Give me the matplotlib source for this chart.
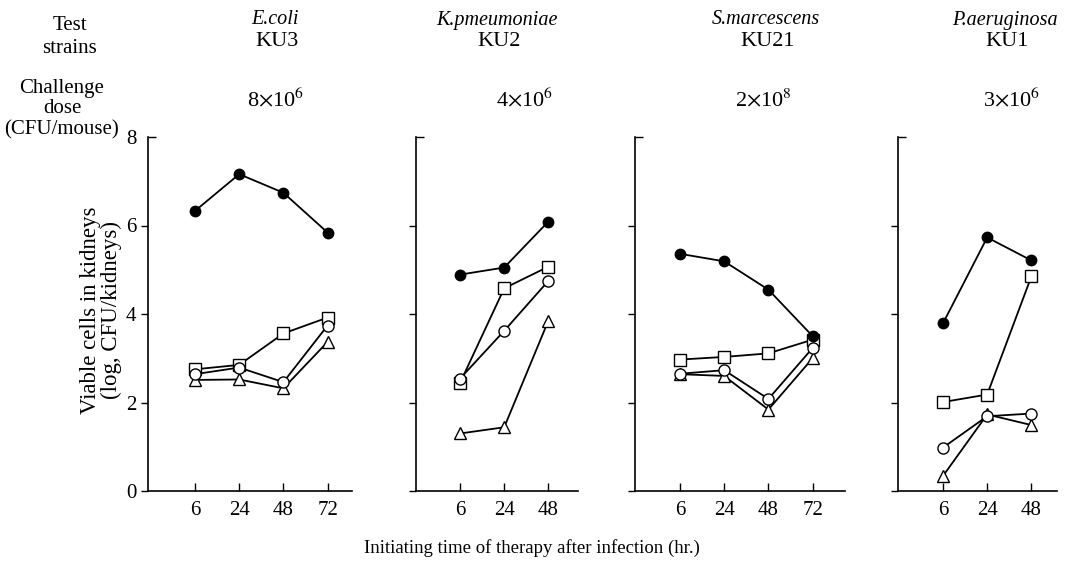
import matplotlib.pyplot as plt
from matplotlib.ticker import FixedLocator

plt.rcParams['font.family'] = ['Liberation Serif', 'DejaVu Serif']
plt.rcParams['mathtext.fontset'] = 'stix'

# strains / panels
especies = ["E.coli", "K.pmeumoniae", "S.marcescens", "P.aeruginosa"]
cepas = ["KU3", "KU2", "KU21", "KU1"]
doses = [r"8$\times$10$^6$", r"4$\times$10$^6$", r"2$\times$10$^8$", r"3$\times$10$^6$"]
tempos = [["6", "24", "48", "72"], ["6", "24", "48"], ["6", "24", "48", "72"], ["6", "24", "48"]]

# log CFU/kidneys, one list per panel
cheio = [[6.33, 7.16, 6.74, 5.84], [4.89, 5.05, 6.09], [5.36, 5.19, 4.55, 3.50], [3.79, 5.73, 5.21]]
quadrado = [[2.75, 2.85, 3.56, 3.92], [2.44, 4.58, 5.07], [2.97, 3.03, 3.11, 3.42], [2.01, 2.18, 4.85]]
circulo = [[2.64, 2.79, 2.46, 3.74], [2.54, 3.62, 4.75], [2.65, 2.73, 2.08, 3.23], [0.98, 1.69, 1.75]]
triangulo = [[2.51, 2.52, 2.32, 3.37], [1.30, 1.44, 3.85], [2.64, 2.60, 1.84, 3.00], [0.34, 1.73, 1.49]]

W, H = 1079, 565
# panel boxes in pixels: left, right
caixas = [(148, 352), (416, 578), (635, 845), (898, 1057)]
primeiro_tick = [195, 460, 680, 943]
passo = 44.2
topo, base = 137, 491

fig = plt.figure(figsize=(W / 100, H / 100), dpi=100)

for i in range(4):
    esq, dir_ = caixas[i]
    ax = fig.add_axes([esq / W, 1 - base / H, (dir_ - esq) / W, (base - topo) / H])
    xs = list(range(len(tempos[i])))
    ax.plot(xs, cheio[i], color="black", lw=1.3, marker="o", ms=7.5,
            mfc="black", mec="black", zorder=5)
    ax.plot(xs, quadrado[i], color="black", lw=1.3, marker="s", ms=8,
            mfc="white", mec="black", mew=1.0, zorder=3)
    ax.plot(xs, circulo[i], color="black", lw=1.3, marker="o", ms=8,
            mfc="white", mec="black", mew=1.0, zorder=4)
    ax.plot(xs, triangulo[i], color="black", lw=1.3, marker="^", ms=8.5,
            mfc="white", mec="black", mew=1.0, zorder=3)

    ax.set_xlim((esq - primeiro_tick[i]) / passo, (dir_ - primeiro_tick[i]) / passo)
    ax.set_ylim(0, 8)
    ax.set_xticks(xs)
    ax.set_xticklabels(tempos[i], fontsize=15)
    ax.tick_params(axis="x", direction="in", length=6, width=1.0, pad=7)
    ax.set_yticks([0, 2, 4, 6])
    ax.yaxis.set_minor_locator(FixedLocator([8]))
    ax.tick_params(axis="y", which="major", direction="out", length=5, width=1.0)
    ax.tick_params(axis="y", which="minor", direction="in", length=6, width=1.0)
    if i == 0:
        ax.set_yticklabels(["0", "2", "4", "6"], fontsize=15)
        ax.set_yticks([8], labels=["8"], minor=True, fontsize=15)
        ax.tick_params(axis="y", which="minor", labelleft=True, pad=8)
    else:
        ax.set_yticklabels([])
    for s in ["top", "right"]:
        ax.spines[s].set_visible(False)
    for s in ["left", "bottom"]:
        ax.spines[s].set_linewidth(1.2)

    centro_x = [275, 497, 766, 1005][i] / W
    fig.text(centro_x, 1 - 20 / H, especies[i], ha="center", va="center",
             fontsize=14.5, style="italic")
    fig.text(centro_x + 2 / W, 1 - 41 / H, cepas[i], ha="center", va="center", fontsize=16)
    fig.text([276, 525, 763, 1012][i] / W, 1 - 100 / H, doses[i], ha="center",
             va="center", fontsize=16)

fig.text(70 / W, 1 - 37 / H, "Test\nstrains", ha="center", va="center",
         fontsize=15, linespacing=1.25)
fig.text(62 / W, 1 - 109 / H, "Challenge\ndose\n(CFU/mouse)", ha="center",
         va="center", fontsize=15, linespacing=1.1)
fig.text(101 / W, 1 - 310 / H, "Viable cells in kidneys\n(log, CFU/kidneys)",
         ha="center", va="center", rotation=90, fontsize=16.5, linespacing=1.05)
fig.text(532 / W, 1 - 548 / H, "Initiating time of therapy after infection (hr.)",
         ha="center", va="center", fontsize=13.5)

fig.savefig("out.png", dpi=100)
